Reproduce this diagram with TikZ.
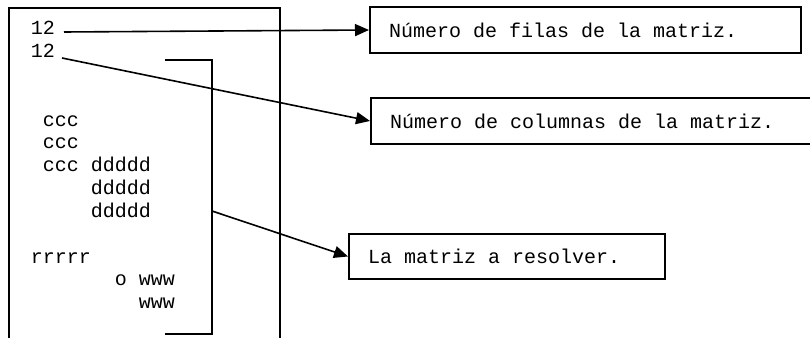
\documentclass[tikz,border=0pt]{standalone}
\usepackage{fontspec}
\setmonofont{Liberation Mono}
\usetikzlibrary{arrows.meta,positioning}
\newcommand\letrafija{\ttfamily\fontsize{15}{18}\selectfont}

\begin{document}
\begin{tikzpicture}[x=0.75pt, y=-0.75pt, line width=1.2pt,
    dato/.style = {anchor=base west, inner sep=0pt, font=\letrafija},
    nota/.style = {draw, anchor=west, minimum height=34.5pt, inner xsep=14.5pt, font=\letrafija},
    flecha/.style = {-{Triangle[length=10.5pt, width=9pt]}}]
  \useasboundingbox (0,0) rectangle (810,338);

  % marco del fichero de entrada
  \draw (9,338) -- (9,8) -- (280,8) -- (280,338);

  \node[dato] (filas) at (30,35) {12};
  \node[dato] (cols) at (30,57.8) {12};
  \node[dato] (c1) at (42,126.2) {ccc};
  \node[dato] (c2) at (42,149) {ccc};
  \node[dato] (c3) at (42,171.8) {ccc};
  \node[dato] (d1) at (90,171.8) {ddddd};
  \node[dato] (d2) at (90,194.6) {ddddd};
  \node[dato] (d3) at (90,217.4) {ddddd};
  \node[dato] (r1) at (30,263) {rrrrr};
  \node[dato] (o1) at (114,285.8) {o};
  \node[dato] (w1) at (138,285.8) {www};
  \node[dato] (w2) at (138,308.6) {www};

  % llave de la matriz
  \draw (165,60) -- (212,60) -- (212,334) -- (165,334);
  \coordinate (llave) at (212,211);
  \coordinate (a1) at (64,32);
  \coordinate (a2) at (62,58);

  \node[nota] (n1) at (369,30) {\makebox[294.25pt][l]{Número de filas de la matriz.}};
  \node[nota] (n2) at (370,121) {\makebox[304.75pt][l]{Número de columnas de la matriz.}};
  \node[nota, minimum height=33.75pt] (n3) at (348,256.5) {\makebox[208pt][l]{La matriz a resolver.}};

  \draw[flecha] (a1) -- (n1.west);
  \draw[flecha] (a2) -- (n2.west);
  \draw[flecha] (llave) -- (n3.west);
\end{tikzpicture}
\end{document}
